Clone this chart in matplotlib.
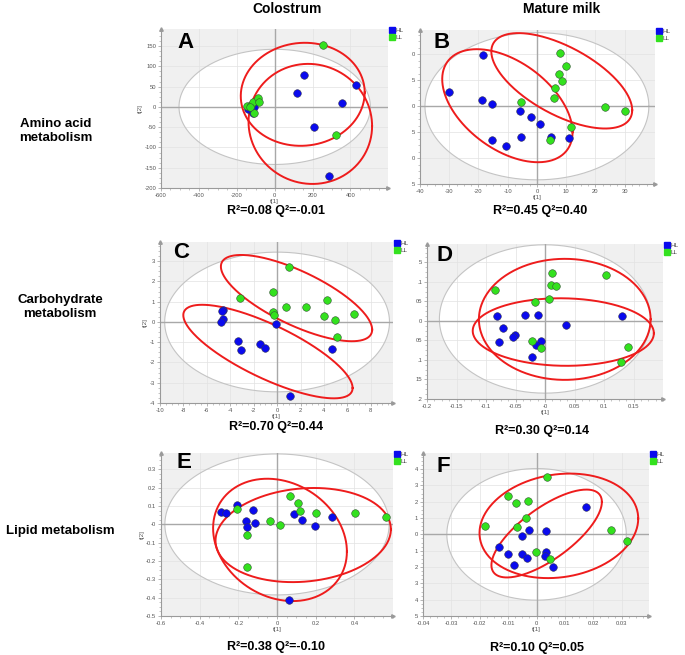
import numpy as np
import matplotlib
matplotlib.use("Agg")
import matplotlib.pyplot as plt
from matplotlib.lines import Line2D
from matplotlib.ticker import AutoMinorLocator

plt.rcParams['font.family'] = ['Liberation Sans', 'DejaVu Sans']

# ---- data ----
# A: colostrum, amino acid
a_hl_x = [153, 119, 428, 356, 209, 286, -140, -109, -112]
a_hl_y = [79, 33, 54, 10, -50, -171, -6, 0, -16]
a_ll_x = [253, 325, -144, -126, -112, -88, -82, -109, -132]
a_ll_y = [152, -69, 2, 5, 11, 23, 13, -15, -1]
# B: mature milk, amino acid
b_hl_x = [-18.4, -30, -18.9, -15.2, -5.8, -2.1, 1.0, -5.6, -15.2, -10.6, 4.8, 11.1]
b_hl_y = [9.8, 2.7, 1.2, 0.45, -0.84, -2.1, -3.4, -6.0, -6.6, -7.7, -5.9, -6.1]
b_ll_x = [7.9, 9.8, 7.4, 8.7, 6.2, 5.7, -5.4, 23.3, 30.2, 11.7, 4.4]
b_ll_y = [10.2, 7.7, 6.3, 4.8, 3.6, 1.5, 0.77, -0.13, -0.9, -4.1, -6.5]
# C: colostrum, carbohydrate
c_hl_x = [-4.66, -4.74, -4.6, -4.8, -3.32, -3.12, -1.42, -1.05, -0.06, 4.66, 1.08]
c_hl_y = [0.59, 0.52, 0.16, 0.0, -0.93, -1.36, -1.07, -1.26, -0.1, -1.31, -3.66]
c_ll_x = [1.05, -3.21, -0.34, 0.77, 2.47, 4.29, -0.31, -0.23, 3.98, 4.97, 6.56, 5.09]
c_ll_y = [2.72, 1.2, 1.46, 0.75, 0.72, 1.1, 0.48, 0.33, 0.3, 0.08, 0.39, -0.75]
# D: mature milk, carbohydrate
d_hl_x = [-0.0818, -0.0339, -0.0119, -0.0711, -0.0502, -0.0536, -0.0773, -0.0062,
          -0.0158, -0.0214, 0.035, 0.131]
d_hl_y = [0.0128, 0.0145, 0.0145, -0.0171, -0.035, -0.0419, -0.053, -0.0504,
          -0.0615, -0.0923, -0.0103, 0.0128]
d_ll_x = [-0.0852, 0.0113, 0.0107, 0.0192, 0.0068, -0.0175, 0.104, -0.0226, -0.0062, 0.141, 0.129]
d_ll_y = [0.0795, 0.122, 0.0923, 0.0889, 0.0564, 0.0479, 0.118, -0.0513, -0.0684, -0.0658, -0.106]
# E: colostrum, lipid
e_hl_x = [-0.289, -0.265, -0.206, -0.124, -0.16, -0.155, -0.114, 0.0878, 0.129, 0.194, 0.286, 0.0637]
e_hl_y = [0.0656, 0.062, 0.107, 0.0765, 0.02, -0.0146, 0.0055, 0.0546, 0.0255, -0.0091, 0.0419, -0.412]
e_ll_x = [-0.208, -0.038, 0.0138, 0.0688, 0.107, 0.117, 0.2, 0.404, 0.563, -0.155, -0.153]
e_ll_y = [0.082, 0.0164, -0.0036, 0.157, 0.115, 0.0729, 0.06, 0.062, 0.042, -0.058, -0.233]
# F: mature milk, lipid
f_hl_x = [0.0174, -0.0025, 0.0034, -0.0051, -0.0134, -0.01, -0.0051, -0.0034, -0.0079, 0.0032, 0.0029, 0.0059]
f_hl_y = [0.0167, 0.0024, 0.0022, -0.0012, -0.0077, -0.0122, -0.0122, -0.0144, -0.0185, -0.0106, -0.0134, -0.0197]
f_ll_x = [0.0038, -0.01, -0.0071, -0.0029, -0.0038, -0.0183, -0.0069, 0.0263, 0.0317, -0.0001, 0.0049]
f_ll_y = [0.035, 0.0232, 0.0189, 0.0203, 0.01, 0.0053, 0.0043, 0.0026, -0.0043, -0.0106, -0.015]

stats = ["R\u00b2=0.08 Q\u00b2=-0.01", "R\u00b2=0.45 Q\u00b2=0.40",
         "R\u00b2=0.70 Q\u00b2=0.44", "R\u00b2=0.30 Q\u00b2=0.14",
         "R\u00b2=0.38 Q\u00b2=-0.10", "R\u00b2=0.10 Q\u00b2=0.05"]
letters = ["A", "B", "C", "D", "E", "F"]
col_titles = ["Colostrum", "Mature milk"]
row_titles = ["Amino acid\nmetabolism", "Carbohydrate\nmetabolism", "Lipid metabolism"]

# ellipses: centre x, centre y, half width, half height, phase (deg, 90 = upright)
hotelling = [(0, 0, 505, 142, 90), (0, 0, 38.3, 14.2, 90), (0, 0, 9.6, 3.45, 90),
             (0, 0.005, 0.179, 0.19, 90), (0, 0, 0.58, 0.385, 90), (0, 0, 0.0316, 0.0403, 90)]
groups = [[(148, 31, 327, 127, 88), (188, -42, 326, 148, 92)],
          [(-10.1, 0.1, 22.3, 10.9, 118), (8.5, 4.9, 24.1, 9.2, 128)],
          [(1.66, 1.18, 6.46, 2.13, 137), (-0.78, -1.46, 7.23, 2.31, 141)],
          [(0.0335, 0.004, 0.1455, 0.155, 90), (0.031, -0.0285, 0.1535, 0.0865, 92)],
          [(0.0155, -0.0845, 0.346, 0.334, 101), (0.1355, -0.058, 0.4535, 0.257, 83)],
          [(0.00785, 0.0052, 0.02795, 0.032, 82), (0.00355, 0.0005, 0.01945, 0.0269, 44)]]

xlims = [(-600, 598), (-40, 40.4), (-10, 9.9), (-0.2, 0.2), (-0.6, 0.6), (-0.04, 0.0396)]
ylims = [(-200, 192), (-15, 14.7), (-4, 3.95), (-0.2, 0.197), (-0.5, 0.39), (-0.05, 0.0498)]
xticks = [np.arange(-600, 401, 200), np.arange(-40, 31, 10), np.arange(-10, 9, 2),
          np.arange(-0.2, 0.16, 0.05), np.arange(-0.6, 0.41, 0.2), np.arange(-0.04, 0.031, 0.01)]
yticks = [np.arange(-200, 151, 50), np.arange(-15, 11, 5), np.arange(-4, 4, 1),
          np.arange(-0.2, 0.16, 0.05), np.arange(-0.5, 0.31, 0.1), np.arange(-0.05, 0.041, 0.01)]
# right column tick labels are cut off in the original figure
ylabels_cut = [None, ["5", "0", "5", "0", "5", "0"], None,
               [".2", "15", ".1", "05", "0", "05", ".1", "5"], None,
               ["5", "4", "3", "2", "1", "0", "1", "2", "3", "4"]]

panels = [(a_hl_x, a_hl_y, a_ll_x, a_ll_y), (b_hl_x, b_hl_y, b_ll_x, b_ll_y),
          (c_hl_x, c_hl_y, c_ll_x, c_ll_y), (d_hl_x, d_hl_y, d_ll_x, d_ll_y),
          (e_hl_x, e_hl_y, e_ll_x, e_ll_y), (f_hl_x, f_hl_y, f_ll_x, f_ll_y)]

# ---- layout (pixel boxes: left, top, right, bottom) ----
W, H = 685, 655
boxes = [(161, 29, 388, 188), (420, 30, 655, 184),
         (160, 242, 393, 403), (427, 244, 663, 399),
         (161, 453, 393, 616), (423, 453, 649, 616)]
letter_pos = [(186, 42), (442, 43), (181, 252), (445, 256), (184, 462), (443, 467)]
stat_pos = [(276, 211), (540, 211), (276, 427), (542, 431), (276, 647), (537, 648)]

BLUE = '#0a0aee'
GREEN = '#33e11e'
RED = '#ee1c1c'

fig = plt.figure(figsize=(W / 100, H / 100), dpi=100)
fig.patch.set_facecolor('white')


def ell(c, n=300):
    cx, cy, rx, ry, ph = c
    t = np.linspace(0, 2 * np.pi, n)
    return cx + rx * np.cos(t), cy + ry * np.cos(t + np.deg2rad(ph))


for i in range(6):
    l, t, r, b = boxes[i]
    ax = fig.add_axes([l / W, 1 - b / H, (r - l) / W, (b - t) / H])
    ax.set_facecolor('#f0f0f0')
    ax.set_xlim(*xlims[i])
    ax.set_ylim(*ylims[i])
    ax.set_axisbelow(True)

    hx, hy = ell(hotelling[i])
    ax.fill(hx, hy, color='white', zorder=0.2, lw=0)
    ax.plot(hx, hy, color='#c4c4c4', lw=0.8, zorder=1)
    ax.grid(True, color='#e2e2e2', lw=0.5)
    ax.axhline(0, color='#a8a8a8', lw=1.0, zorder=1)
    ax.axvline(0, color='#a8a8a8', lw=1.0, zorder=1)

    for g in groups[i]:
        gx, gy = ell(g)
        ax.plot(gx, gy, color=RED, lw=1.4, zorder=2)

    hlx, hly, llx, lly = panels[i]
    ax.scatter(hlx, hly, s=30, color=BLUE, edgecolor='#333355', linewidth=0.4, zorder=3)
    ax.scatter(llx, lly, s=30, color=GREEN, edgecolor='#335533', linewidth=0.4, zorder=3)

    ax.set_xticks(xticks[i])
    ax.set_xticklabels(['%g' % round(v, 3) for v in xticks[i]])
    ax.set_yticks(yticks[i])
    if ylabels_cut[i] is None:
        ax.set_yticklabels(['%g' % round(v, 3) for v in yticks[i]])
        ax.set_ylabel('t[2]', fontsize=4.5, color='#555555', labelpad=1)
    else:
        ax.set_yticklabels(ylabels_cut[i])
    ax.xaxis.set_minor_locator(AutoMinorLocator(4))
    ax.yaxis.set_minor_locator(AutoMinorLocator(4))
    ax.tick_params(labelsize=4.2, labelcolor='#555555', color='#999999', length=2, width=0.5, pad=1.5)
    ax.tick_params(which='minor', color='#999999', length=1.2, width=0.4)
    ax.set_xlabel('t[1]', fontsize=4.5, color='#555555', labelpad=1)

    for side in ['top', 'right']:
        ax.spines[side].set_visible(False)
    for side in ['left', 'bottom']:
        ax.spines[side].set_color('#9a9a9a')
        ax.spines[side].set_linewidth(0.8)
    ax.plot([0], [1], marker='^', ms=2.5, color='#9a9a9a', transform=ax.transAxes, clip_on=False)
    ax.plot([1], [0], marker='>', ms=2.5, color='#9a9a9a', transform=ax.transAxes, clip_on=False)

    handles = [Line2D([], [], marker='s', ls='', ms=5, color=BLUE, label='HL'),
               Line2D([], [], marker='s', ls='', ms=5, color=GREEN, label='LL')]
    leg = ax.legend(handles=handles, loc='upper left', bbox_to_anchor=(1.008, 1.01), frameon=False,
                    fontsize=4.6, handlelength=0.6, handletextpad=0.3, labelspacing=0.3,
                    borderaxespad=0, borderpad=0)
    for txt in leg.get_texts():
        txt.set_color('#444444')

    lx, ly = letter_pos[i]
    fig.text(lx / W, 1 - ly / H, letters[i], fontsize=16, fontweight='bold',
             ha='center', va='center')
    sx, sy = stat_pos[i]
    fig.text(sx / W, 1 - sy / H, stats[i], fontsize=9, fontweight='bold',
             ha='center', va='center')

fig.text(287 / W, 1 - 9 / H, col_titles[0], fontsize=10, fontweight='bold', ha='center', va='center')
fig.text(562 / W, 1 - 9 / H, col_titles[1], fontsize=10, fontweight='bold', ha='center', va='center')
fig.text(56 / W, 1 - 131 / H, row_titles[0], fontsize=9.5, fontweight='bold', ha='center', va='center',
         linespacing=1.3)
fig.text(60 / W, 1 - 307 / H, row_titles[1], fontsize=9.5, fontweight='bold', ha='center', va='center',
         linespacing=1.3)
fig.text(60 / W, 1 - 531 / H, row_titles[2], fontsize=9.5, fontweight='bold', ha='center', va='center')

fig.savefig('out.png', dpi=100)
